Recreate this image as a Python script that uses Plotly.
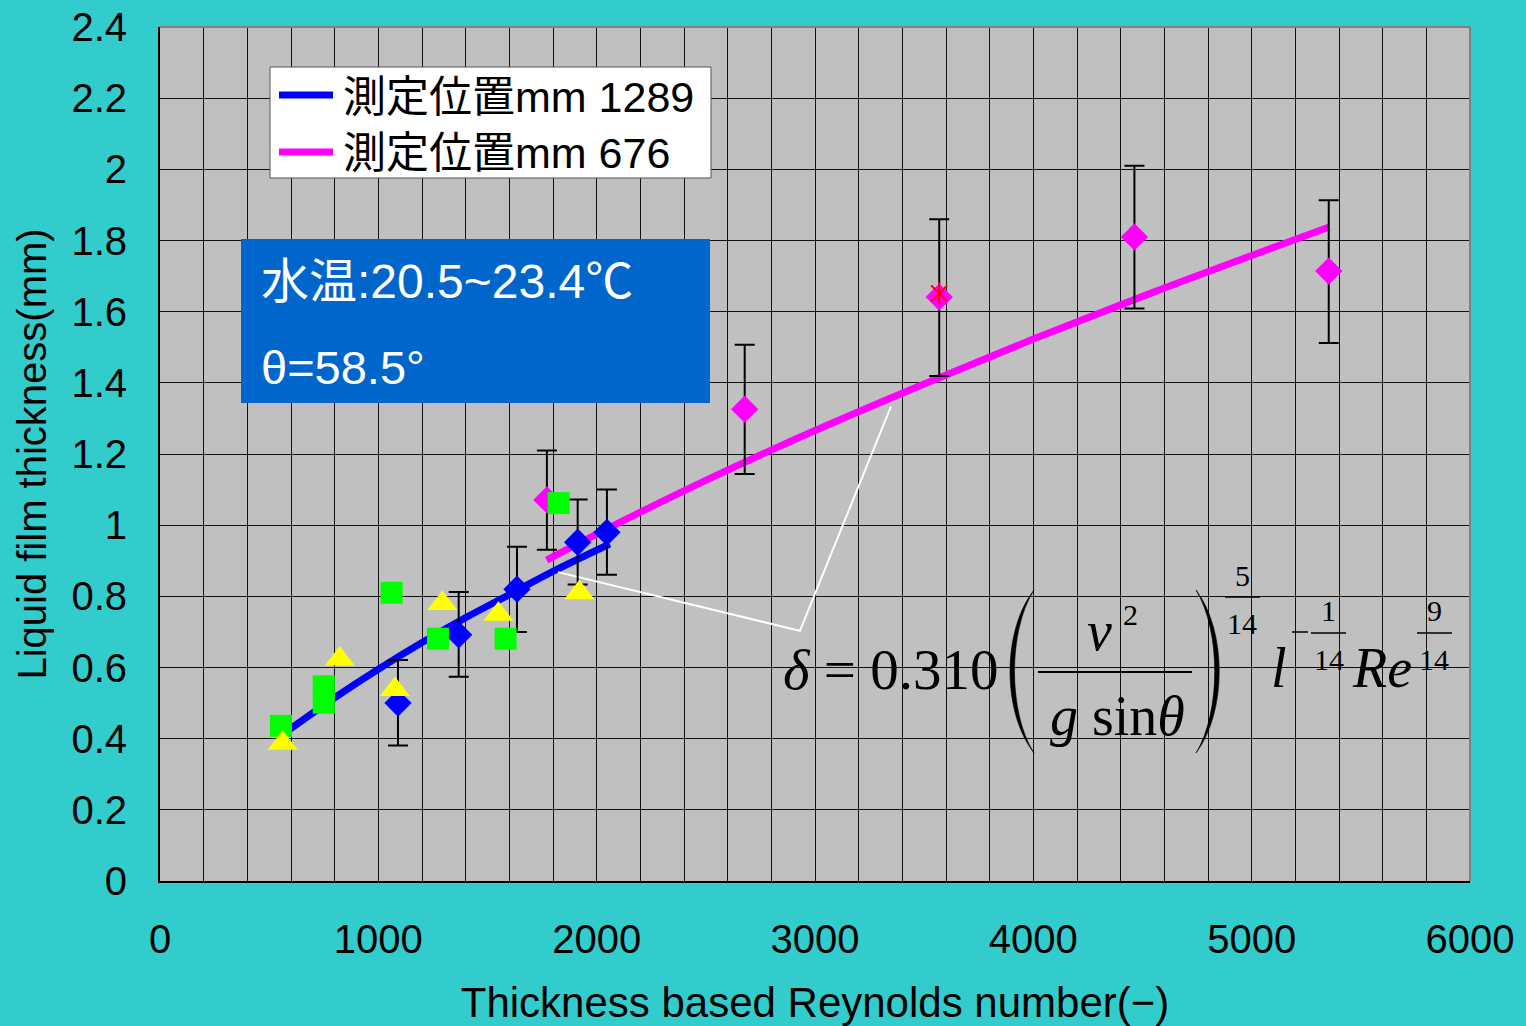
import plotly.graph_objects as go

# ---------------- data ----------------
# fitted curves
re_fit_1289 = [580, 800, 1000, 1200, 1400, 1600, 1800, 2060]
film_fit_1289 = [0.42, 0.515, 0.595, 0.67, 0.74, 0.805, 0.87, 0.947]

re_fit_676 = [1771, 2000, 2500, 3000, 3500, 4000, 4500, 5000, 5355]
film_fit_676 = [0.902, 0.975, 1.126, 1.266, 1.397, 1.523, 1.643, 1.758, 1.838]

# measured points, position 1289 mm (blue diamonds)
re_1289 = [1090, 1368, 1635, 1913, 2047]
film_1289 = [0.50, 0.692, 0.82, 0.952, 0.98]
upper_1289 = [0.621, 0.812, 0.939, 1.072, 1.10]
lower_1289 = [0.381, 0.574, 0.70, 0.833, 0.861]

# measured points, position 676 mm (magenta diamonds)
re_676 = [1772, 2678, 3569, 4463, 5353]
film_676 = [1.071, 1.326, 1.641, 1.81, 1.714]
upper_676 = [1.21, 1.507, 1.86, 2.01, 1.913]
lower_676 = [0.931, 1.144, 1.419, 1.609, 1.512]

# other series (green squares, yellow triangles, red cross)
re_green = [554, 750, 750, 1061, 1273, 1583, 1826]
film_green = [0.436, 0.547, 0.501, 0.81, 0.681, 0.681, 1.062]

re_yellow = [562, 823, 1076, 1293, 1550, 1921]
film_yellow = [0.387, 0.624, 0.538, 0.780, 0.750, 0.810]

re_red = [3569]
film_red = [1.651]

# white leader line from the curves to the formula
re_leader = [1823, 2931, 3348]
film_leader = [0.868, 0.703, 1.334]

x_tick_vals = [0, 1000, 2000, 3000, 4000, 5000, 6000]
y_tick_vals = [0, 0.2, 0.4, 0.6, 0.8, 1.0, 1.2, 1.4, 1.6, 1.8, 2.0, 2.2, 2.4]

legend_names = ["測定位置mm 1289", "測定位置mm 676"]
info_lines = ["水温:20.5~23.4℃", "θ=58.5°"]

# ---------------- styling ----------------
SANS = "Liberation Sans, Arial, Noto Sans CJK JP"
SERIF = "Liberation Serif, Times New Roman, serif"
PAPER = "#33CCCC"
PLOTBG = "#C0C0C0"
BLUE = "#0000FF"
MAGENTA = "#FF00FF"
RED = "#FF0000"

L, R, T, B = 160, 56, 27, 145
W, H = 1526, 1026
PW, PH = W - L - R, H - T - B


def px(x):
    return (x - L) / PW


def py(y):
    return (H - B - y) / PH


err_1289 = [u - v for u, v in zip(upper_1289, film_1289)]
errm_1289 = [v - lo for v, lo in zip(film_1289, lower_1289)]
err_676 = [u - v for u, v in zip(upper_676, film_676)]
errm_676 = [v - lo for v, lo in zip(film_676, lower_676)]

fig = go.Figure()

fig.add_trace(go.Scatter(x=re_fit_1289, y=film_fit_1289, mode="lines",
                         line=dict(color=BLUE, width=7, shape="spline"),
                         name=legend_names[0], hoverinfo="skip"))
fig.add_trace(go.Scatter(x=re_fit_676, y=film_fit_676, mode="lines",
                         line=dict(color=MAGENTA, width=7, shape="spline"),
                         name=legend_names[1], hoverinfo="skip"))
fig.add_trace(go.Scatter(x=re_leader, y=film_leader, mode="lines",
                         line=dict(color="white", width=2), hoverinfo="skip"))

errstyle = dict(type="data", color="black", thickness=2, width=10, visible=True)
fig.add_trace(go.Scatter(x=re_676, y=film_676, mode="markers",
                         marker=dict(symbol="diamond", size=21, color=MAGENTA),
                         error_y=dict(array=err_676, arrayminus=errm_676, **errstyle)))
fig.add_trace(go.Scatter(x=re_1289, y=film_1289, mode="markers",
                         marker=dict(symbol="diamond", size=21, color=BLUE),
                         error_y=dict(array=err_1289, arrayminus=errm_1289, **errstyle)))
fig.add_trace(go.Scatter(x=re_green, y=film_green, mode="markers",
                         marker=dict(symbol="square", size=22, color="#00FF00")))
fig.add_trace(go.Scatter(x=re_yellow, y=film_yellow, mode="markers",
                         marker=dict(symbol="triangle-up", size=26, color="#FFFF00")))
fig.add_trace(go.Scatter(x=re_red, y=film_red, mode="markers",
                         marker=dict(symbol="x-thin-open", size=16, color=RED,
                                     line=dict(color=RED, width=2))))
fig.add_trace(go.Scatter(x=re_red, y=film_red, mode="markers",
                         marker=dict(symbol="line-ns-open", size=16, color=RED,
                                     line=dict(color=RED, width=2))))

# ---------------- shapes ----------------
shapes = []
# top and right frame (gray)
shapes.append(dict(type="line", xref="paper", yref="paper", x0=0, x1=1, y0=1, y1=1,
                   line=dict(color="#808080", width=2), layer="above"))
shapes.append(dict(type="line", xref="paper", yref="paper", x0=1, x1=1, y0=0, y1=1,
                   line=dict(color="#808080", width=2), layer="above"))

# legend box
shapes.append(dict(type="rect", xref="paper", yref="paper",
                   x0=px(270), x1=px(711), y0=py(178), y1=py(67),
                   fillcolor="white", line=dict(color="#555555", width=1), layer="above"))
shapes.append(dict(type="line", xref="paper", yref="paper",
                   x0=px(279), x1=px(333), y0=py(95), y1=py(95),
                   line=dict(color=BLUE, width=7), layer="above"))
shapes.append(dict(type="line", xref="paper", yref="paper",
                   x0=px(279), x1=px(333), y0=py(152), y1=py(152),
                   line=dict(color=MAGENTA, width=7), layer="above"))

# info box
shapes.append(dict(type="rect", xref="paper", yref="paper",
                   x0=px(241), x1=px(710), y0=py(403), y1=py(239),
                   fillcolor="#0066CC", line=dict(width=0), layer="above"))


def pt(x, y):
    return f"{px(x):.5f},{py(y):.5f}"


def paren(xe, ctrl_out, ctrl_in, y0, y1):
    ya, yb = y0 + (y1 - y0) * 0.25, y0 + (y1 - y0) * 0.75
    return (f"M{pt(xe, y0)} C{pt(ctrl_out, ya)} {pt(ctrl_out, yb)} {pt(xe, y1)} "
            f"C{pt(ctrl_in, yb)} {pt(ctrl_in, ya)} {pt(xe, y0)} Z")


shapes.append(dict(type="path", xref="paper", yref="paper",
                   path=paren(1034, 1002, 1008, 590, 753),
                   fillcolor="black", line=dict(color="black", width=0.6), layer="above"))
shapes.append(dict(type="path", xref="paper", yref="paper",
                   path=paren(1196, 1227, 1221, 590, 753),
                   fillcolor="black", line=dict(color="black", width=0.6), layer="above"))

for (xa, xb, yy, lw) in [(1038, 1192, 672, 2), (1225, 1260, 597, 1.5),
                         (1311, 1346, 633, 1.5), (1417, 1452, 633, 1.5),
                         (1292, 1308, 632, 1.5)]:
    shapes.append(dict(type="line", xref="paper", yref="paper",
                       x0=px(xa), x1=px(xb), y0=py(yy), y1=py(yy),
                       line=dict(color="black", width=lw), layer="above"))

# ---------------- annotations ----------------
anns = []


def ann(text, x, y, size, family=SERIF, color="black", xanchor="center"):
    anns.append(dict(text=text, x=px(x), y=py(y), xref="paper", yref="paper",
                     showarrow=False, xanchor=xanchor, yanchor="middle",
                     font=dict(size=size, family=family, color=color)))


# legend text
ann(legend_names[0], 341, 97, 43, family=SANS, xanchor="left")
ann(legend_names[1], 341, 153, 43, family=SANS, xanchor="left")
# info text
ann(info_lines[0], 259, 281, 48, family=SANS, color="white", xanchor="left")
ann(info_lines[1], 259, 367, 47, family=SANS, color="white", xanchor="left")

# formula
ann("<i>δ</i> = 0.310", 890, 669, 57)
ann("<i>ν</i>", 1099, 631, 56)
ann("2", 1130, 614, 30)
ann("<i>g</i> sin<i>θ</i>", 1117, 716, 56)
ann("5", 1242, 575, 30)
ann("14", 1242, 623, 30)
ann("<i>l</i>", 1279, 668, 56)
ann("1", 1328, 610, 30)
ann("14", 1329, 659, 30)
ann("<i>Re</i>", 1382, 668, 56)
ann("9", 1434, 610, 30)
ann("14", 1434, 659, 30)

fig.update_layout(
    width=W, height=H,
    margin=dict(l=L, r=R, t=T, b=B, pad=0),
    paper_bgcolor=PAPER, plot_bgcolor=PLOTBG,
    showlegend=False,
    shapes=shapes, annotations=anns,
    font=dict(family=SANS, color="black"),
)

fig.update_xaxes(
    range=[0, 6000], tickvals=x_tick_vals, ticktext=[str(v) for v in x_tick_vals],
    showgrid=True, gridcolor="#111111", gridwidth=1,
    minor=dict(dtick=200, showgrid=True, gridcolor="#111111", gridwidth=1),
    showline=True, linecolor="black", linewidth=2, mirror=False,
    zeroline=False, ticks="", ticklabelstandoff=22,
    tickfont=dict(size=40, family=SANS, color="black"),
    title=dict(text="Thickness based Reynolds number(−)",
               font=dict(size=42, family=SANS, color="black"), standoff=30),
    automargin=False,
)
fig.update_yaxes(
    range=[0, 2.4], tickvals=y_tick_vals,
    ticktext=[f"{v:g}" for v in y_tick_vals],
    showgrid=True, gridcolor="#111111", gridwidth=1,
    showline=True, linecolor="black", linewidth=2, mirror=False,
    zeroline=False, ticks="", ticklabelstandoff=23,
    tickfont=dict(size=40, family=SANS, color="black"),
    title=dict(text="Liquid film thickness(mm)",
               font=dict(size=40, family=SANS, color="black"), standoff=12),
    automargin=False,
)

fig.write_html("out.html")
